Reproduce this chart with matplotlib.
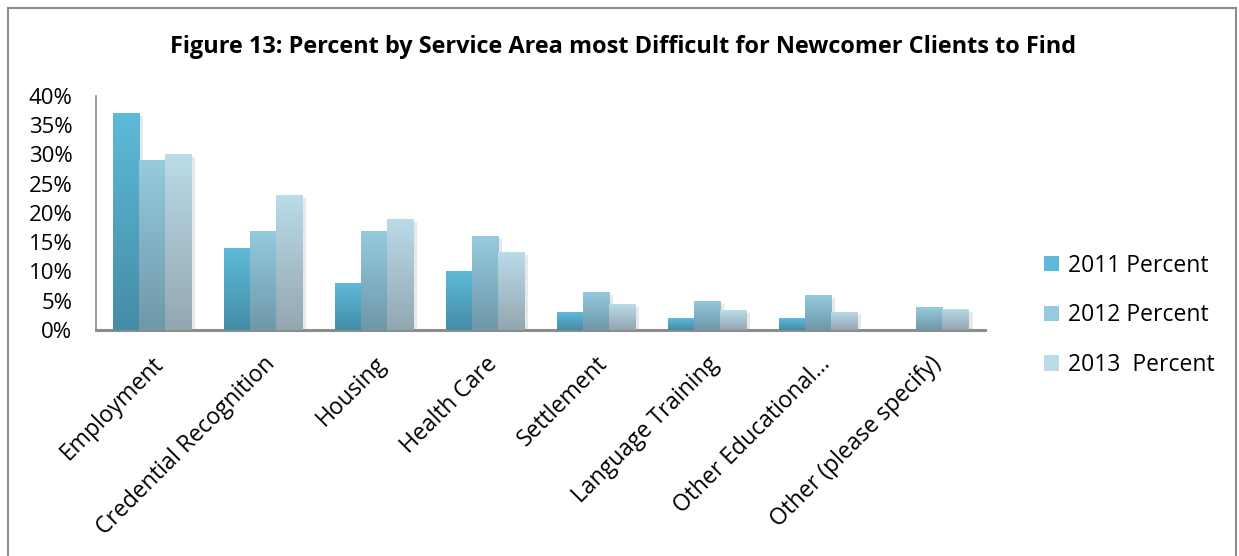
import numpy as np
import matplotlib
matplotlib.use("Agg")
import matplotlib.pyplot as plt
from matplotlib.patches import Rectangle, Patch
from matplotlib.colors import LinearSegmentedColormap
import matplotlib.patheffects as pe

plt.rcParams['font.family'] = ['Open Sans', 'DejaVu Sans']

categories = ["Employment", "Credential Recognition", "Housing", "Health Care",
              "Settlement", "Language Training", "Other Educational...",
              "Other (please specify)"]
pct_2011 = [37, 14, 8, 10, 3, 2, 2, 0]
pct_2012 = [29, 17, 17, 16, 6.5, 5, 6, 3.9]
pct_2013 = [30, 23, 19, 13.3, 4.4, 3.4, 3.1, 3.6]
series_names = ["2011 Percent", "2012 Percent", "2013  Percent"]

# top / bottom colours of the vertical gradient for each series
grad = [("#5ebad8", "#458ca6"),
        ("#95cadf", "#6f98a9"),
        ("#badbe8", "#93a7b1")]

fig = plt.figure(figsize=(12.39, 5.56), dpi=100)
ax = fig.add_axes([0.0775, 0.4065, 0.7175, 0.421])

x = np.arange(len(categories))
w = 0.234
data = [pct_2011, pct_2012, pct_2013]
for i, vals in enumerate(data):
    cmap = LinearSegmentedColormap.from_list("g%d" % i, [grad[i][1], grad[i][0]])
    bars = ax.bar(x + (i - 1) * w, vals, w, color=grad[i][0], zorder=2,
                  path_effects=[pe.SimplePatchShadow(offset=(3, -2), shadow_rgbFace="0.5", alpha=0.18),
                                pe.Normal()])
    for b in bars:
        h = b.get_height()
        if h <= 0:
            continue
        x0 = b.get_x()
        im = ax.imshow(np.linspace(0, 1, 64).reshape(-1, 1), cmap=cmap, origin="lower",
                       extent=[x0, x0 + w, 0, h], aspect="auto", zorder=3)
        im.set_clip_path(b)

ax.set_xlim(-0.5, 7.5)
ax.set_ylim(0, 40)
ax.set_yticks(np.arange(0, 41, 5))
ax.set_yticklabels(["%d%%" % v for v in range(0, 41, 5)], fontsize=16)
ax.set_xticks(x)
ax.set_xticklabels(categories, rotation=45, ha="right", va="top",
                   rotation_mode="anchor", fontsize=16.5)
ax.tick_params(axis="both", length=0)
ax.tick_params(axis="y", pad=17)
ax.tick_params(axis="x", pad=16)
for s in ["top", "right"]:
    ax.spines[s].set_visible(False)
ax.spines["left"].set_color("#8c8c8c")
ax.spines["left"].set_linewidth(1.2)
ax.spines["bottom"].set_color("#8c8c8c")
ax.spines["bottom"].set_linewidth(2.2)

fig.text(0.503, 0.915, "Figure 13: Percent by Service Area most Difficult for Newcomer Clients to Find",
         ha="center", va="center", fontsize=16.9, fontweight="bold")

handles = [Patch(facecolor=grad[i][0], edgecolor="none") for i in range(3)]
fig.legend(handles, series_names, loc="center left", bbox_to_anchor=(0.826, 0.433),
           frameon=False, fontsize=16.5, labelspacing=1.12, handlelength=0.65,
           handleheight=0.65, handletextpad=0.4)

# outer frame of the chart
fig.patches.append(Rectangle((8 / 1239, -0.1), 1228 / 1239, 1.1 - 8 / 556,
                             transform=fig.transFigure, fill=False,
                             edgecolor="#8c8c8c", lw=1.5))

fig.savefig("out.png", dpi=100)
